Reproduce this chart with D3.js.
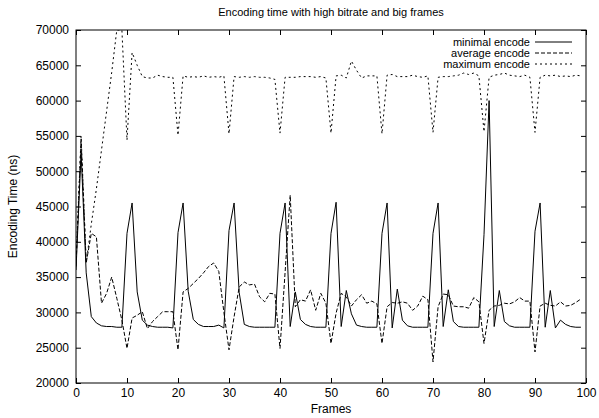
<!DOCTYPE html>
<html>
<head>
	<meta charset="utf-8">
	<title>Encoding time with high bitrate and big frames</title>
	<script src="https://cdn.jsdelivr.net/npm/d3@7"></script>
	<style>
		body { margin: 0; background: #fff; }
		svg text { font-family: "Liberation Sans", Arial, Helvetica, sans-serif; fill: #000; }
		.axis path, .axis line { stroke: #000; }
	</style>
</head>
<body>
	<svg width="599" height="418"></svg>
	<script>
		var frames = d3.range(100);

		var minimalEncode = [
			36000, 52600, 35600, 29400, 28500, 28100, 28000, 28000, 27900, 27900,
			41200, 45500, 32900, 28900, 28200, 28000, 27900, 27900, 27900, 27800,
			41300, 45500, 33000, 29000, 28300, 28000, 28000, 28000, 28200, 27800,
			41600, 45500, 32800, 28300, 28000, 27900, 27900, 27900, 27900, 27900,
			41200, 45500, 28000, 32900, 29000, 28300, 28000, 27900, 27900, 27900,
			41200, 45600, 28000, 33100, 29800, 28200, 28000, 27900, 27900, 27900,
			41200, 45500, 27800, 33300, 28900, 28100, 27900, 27900, 27900, 27900,
			41200, 45500, 28000, 33200, 28700, 28000, 27900, 27900, 27900, 27900,
			41000, 60000, 28000, 33100, 28700, 28100, 27900, 27900, 27900, 27900,
			41500, 45500, 27900, 33100, 27800, 28900, 28300, 28000, 27900, 27900
		];

		var averageEncode = [
			36500, 54500, 37000, 41200, 40700, 31300, 32700, 35000, 32000, 28900,
			24900, 29200, 29600, 30100, 27700, 28700, 29400, 30100, 30100, 30100,
			24700, 32900, 33400, 34100, 34800, 35600, 36500, 37000, 35800, 30000,
			24700, 29400, 33600, 34300, 33900, 34000, 32200, 31500, 32700, 32600,
			24900, 35700, 46600, 30800, 31800, 31600, 33200, 30300, 32700, 31300,
			25600, 29900, 32700, 32200, 30900, 31800, 32500, 31300, 31600, 31200,
			25600, 30800, 31400, 31300, 31500, 31300, 30300, 30900, 32300, 31800,
			23000, 30800, 32600, 32500, 30900, 30800, 30800, 30600, 32100, 31500,
			25600, 30300, 30900, 31000, 31300, 31200, 31500, 32100, 31600, 31600,
			24400, 30900, 31300, 31000, 30900, 31500, 30900, 31000, 31400, 31900
		];

		var maximumEncode = [
			37000, 55000, 37000, 42500, 47500, 53000, 58500, 64000, 70000, 70000,
			54400, 66800, 65000, 63400, 63200, 63200, 63600, 63400, 63300, 63300,
			55100, 63500, 63300, 63400, 63300, 63500, 63300, 63400, 63300, 63500,
			55300, 63400, 63300, 63400, 63300, 63400, 63300, 63300, 63200, 63000,
			55400, 63300, 63300, 63300, 63400, 63400, 63400, 63300, 63400, 63200,
			55400, 63500, 63600, 63200, 65600, 64300, 63200, 63500, 63500, 63500,
			55300, 63600, 63700, 63400, 63400, 63400, 63600, 63400, 63300, 63500,
			55500, 63300, 63400, 63400, 63500, 63600, 63900, 63700, 63900, 63500,
			55600, 63300, 63600, 63700, 63900, 63600, 63500, 63400, 63600, 63300,
			55500, 63300, 63600, 63500, 63600, 63400, 63500, 63400, 63600, 63500
		];

		var xTicks = d3.range(0, 101, 10);
		var yTicks = d3.range(20000, 70001, 5000);

		var series = [
			{ name: "minimal encode", values: minimalEncode, dash: null },
			{ name: "average encode", values: averageEncode, dash: "4,2" },
			{ name: "maximum encode", values: maximumEncode, dash: "2,3" }
		];

		var margin = { top: 30, right: 13, bottom: 35, left: 76 };
		var width = 599 - margin.left - margin.right;
		var height = 418 - margin.top - margin.bottom;

		var svg = d3.select("svg");

		var x = d3.scaleLinear().domain([0, 100]).range([0, width]);
		var y = d3.scaleLinear().domain([20000, 70000]).range([height, 0]);

		var g = svg.append("g")
			.attr("transform", "translate(" + margin.left + "," + margin.top + ")");

		svg.append("defs").append("clipPath")
			.attr("id", "plotclip")
			.append("rect")
			.attr("width", width)
			.attr("height", height);

		// gnuplot style: ticks inside, mirrored on all four sides
		g.append("g")
			.attr("class", "axis")
			.attr("transform", "translate(0," + height + ")")
			.call(d3.axisBottom(x).tickValues(xTicks).tickSize(-5).tickPadding(5))
			.call(function(a) { a.select(".domain").remove(); })
			.selectAll("text").style("font-size", "12px");

		g.append("g")
			.attr("class", "axis")
			.call(d3.axisTop(x).tickValues(xTicks).tickSize(-5).tickFormat(""))
			.call(function(a) { a.select(".domain").remove(); });

		g.append("g")
			.attr("class", "axis")
			.call(d3.axisLeft(y).tickValues(yTicks).tickSize(-5).tickPadding(7).tickFormat(d3.format("d")))
			.call(function(a) { a.select(".domain").remove(); })
			.selectAll("text").style("font-size", "12px");

		g.append("g")
			.attr("class", "axis")
			.attr("transform", "translate(" + width + ",0)")
			.call(d3.axisRight(y).tickValues(yTicks).tickSize(-5).tickFormat(""))
			.call(function(a) { a.select(".domain").remove(); });

		g.append("rect")
			.attr("width", width)
			.attr("height", height)
			.attr("fill", "none")
			.attr("stroke", "#000")
			.attr("stroke-width", 1);

		var line = d3.line()
			.x(function(d, i) { return x(frames[i]); })
			.y(function(d) { return y(d); });

		g.append("g")
			.attr("clip-path", "url(#plotclip)")
			.selectAll("path")
			.data(series)
			.enter()
			.append("path")
			.attr("fill", "none")
			.attr("stroke", "#000")
			.attr("stroke-width", 1)
			.attr("stroke-dasharray", function(d) { return d.dash; })
			.attr("d", function(d) { return line(d.values); });

		// legend
		var legend = g.append("g")
			.selectAll("g")
			.data(series)
			.enter()
			.append("g")
			.attr("transform", function(d, i) { return "translate(0," + (12 + i * 11) + ")"; });

		legend.append("text")
			.attr("x", 454)
			.attr("dy", "0.35em")
			.attr("text-anchor", "end")
			.style("font-size", "11px")
			.text(function(d) { return d.name; });

		legend.append("line")
			.attr("x1", 459)
			.attr("x2", 496)
			.attr("stroke", "#000")
			.attr("stroke-dasharray", function(d) { return d.dash; });

		svg.append("text")
			.attr("x", margin.left + width / 2)
			.attr("y", 16)
			.attr("text-anchor", "middle")
			.style("font-size", "11px")
			.text("Encoding time with high bitrate and big frames");

		svg.append("text")
			.attr("x", margin.left + width / 2)
			.attr("y", 413)
			.attr("text-anchor", "middle")
			.style("font-size", "12px")
			.text("Frames");

		svg.append("text")
			.attr("transform", "translate(17," + (margin.top + height / 2) + ") rotate(-90)")
			.attr("text-anchor", "middle")
			.style("font-size", "12px")
			.text("Encoding Time (ns)");
	</script>
</body>
</html>
